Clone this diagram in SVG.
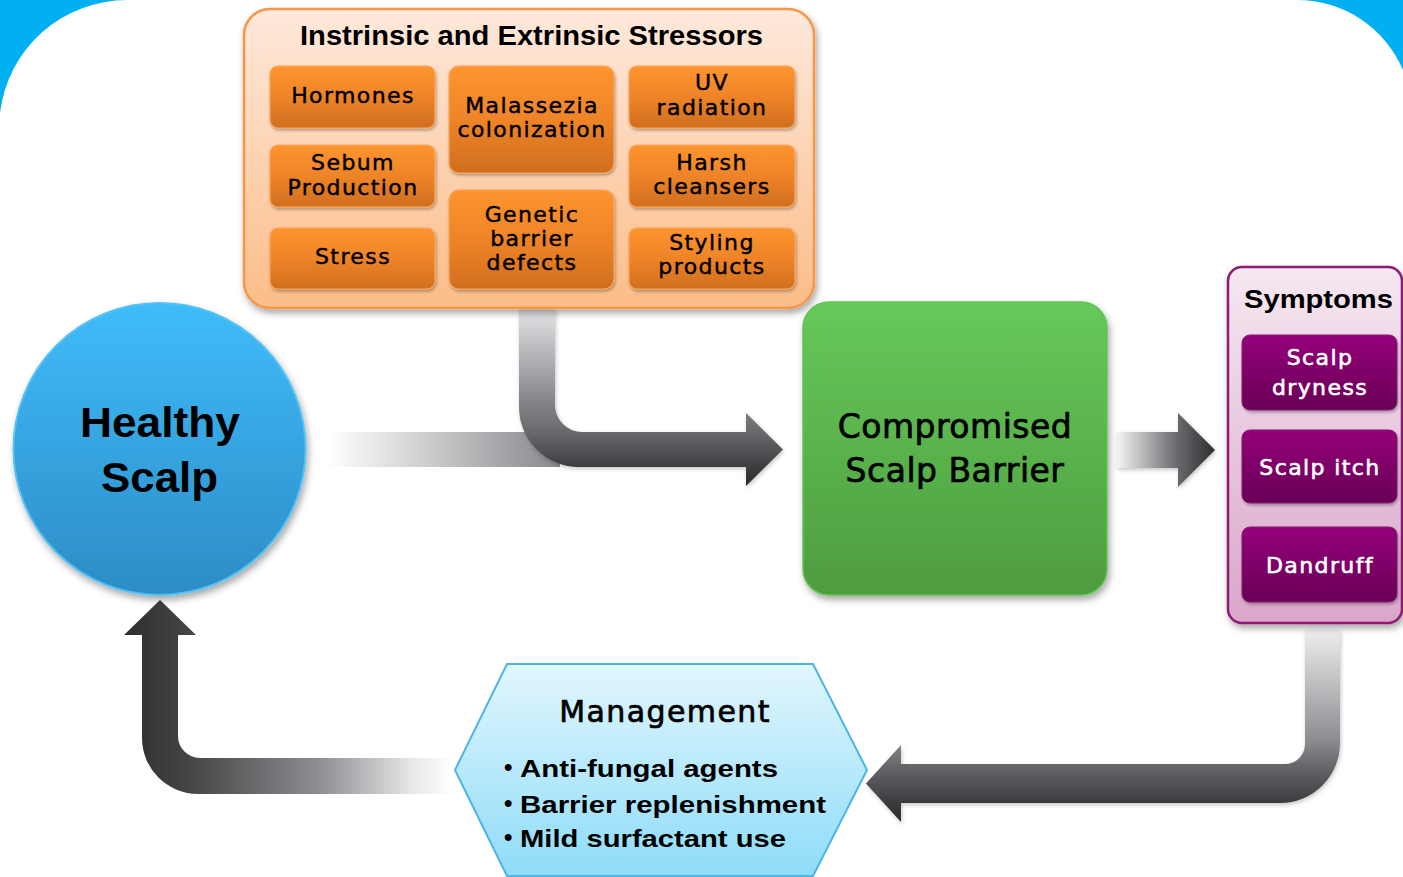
<svg xmlns="http://www.w3.org/2000/svg" width="1403" height="877" viewBox="0 0 1403 877">
  <defs>
    <style>
      .title { font-family: "Liberation Sans", Arial, sans-serif; font-weight: bold; fill: #000; }
      .cell { font-family: "DejaVu Sans", Verdana, sans-serif; font-size: 22px; letter-spacing: 1.4px; fill: #000; stroke: #000; stroke-width: 0.45; text-anchor: middle; }
      .sym { font-family: "DejaVu Sans", Verdana, sans-serif; font-size: 22px; letter-spacing: 1.4px; fill: #fff; stroke: #fff; stroke-width: 0.6; text-anchor: middle; }
      .big { font-family: "DejaVu Sans", Verdana, sans-serif; fill: #000; stroke: #000; stroke-width: 0.7; text-anchor: middle; }
      .bullet { font-family: "Liberation Sans", Arial, sans-serif; font-weight: bold; font-size: 24px; fill: #000; }
      .obox { fill: url(#gOrange); stroke: #f9a55c; stroke-width: 1.2; filter: url(#shSmall); }
      .pbox { fill: url(#gPurple); stroke: #8a1773; stroke-width: 1; filter: url(#shSmall); }
    </style>
    <linearGradient id="gPeach" x1="0" y1="0" x2="0" y2="1">
      <stop offset="0" stop-color="#fee9dc"/>
      <stop offset="1" stop-color="#fbbd88"/>
    </linearGradient>
    <linearGradient id="gOrange" x1="0" y1="0" x2="0" y2="1">
      <stop offset="0" stop-color="#fe952f"/>
      <stop offset="0.5" stop-color="#ee8428"/>
      <stop offset="1" stop-color="#d06e1e"/>
    </linearGradient>
    <linearGradient id="gBlue" x1="0" y1="0" x2="0" y2="1">
      <stop offset="0" stop-color="#3fbcfa"/>
      <stop offset="1" stop-color="#2d8cc6"/>
    </linearGradient>
    <linearGradient id="gGreen" x1="0" y1="0" x2="0" y2="1">
      <stop offset="0" stop-color="#66c95a"/>
      <stop offset="1" stop-color="#4e9c3f"/>
    </linearGradient>
    <linearGradient id="gPink" x1="0" y1="0" x2="0" y2="1">
      <stop offset="0" stop-color="#f5e8f1"/>
      <stop offset="1" stop-color="#daa6ca"/>
    </linearGradient>
    <linearGradient id="gPurple" x1="0" y1="0" x2="0" y2="1">
      <stop offset="0" stop-color="#940079"/>
      <stop offset="1" stop-color="#680056"/>
    </linearGradient>
    <linearGradient id="gCyan" x1="0" y1="0" x2="0" y2="1">
      <stop offset="0" stop-color="#e2f6fe"/>
      <stop offset="1" stop-color="#8edcf8"/>
    </linearGradient>

    <!-- connector shading -->
    <linearGradient id="gFadeRight" gradientUnits="userSpaceOnUse" x1="328" y1="0" x2="560" y2="0">
      <stop offset="0" stop-color="#ffffff"/>
      <stop offset="0.15" stop-color="#eeeef0"/>
      <stop offset="1" stop-color="#88888c"/>
    </linearGradient>
    <linearGradient id="gDown1" gradientUnits="userSpaceOnUse" x1="0" y1="308" x2="0" y2="486">
      <stop offset="0" stop-color="#e4e5e7"/>
      <stop offset="0.55" stop-color="#808185"/>
      <stop offset="0.70" stop-color="#68696c"/>
      <stop offset="0.89" stop-color="#3e3e41"/>
      <stop offset="1" stop-color="#2c2c2e"/>
    </linearGradient>
    <linearGradient id="gRight" gradientUnits="userSpaceOnUse" x1="1117" y1="0" x2="1215" y2="0">
      <stop offset="0" stop-color="#f4f4f5"/>
      <stop offset="0.6" stop-color="#6c6c70"/>
      <stop offset="1" stop-color="#2e2e30"/>
    </linearGradient>
    <linearGradient id="gDown2" gradientUnits="userSpaceOnUse" x1="0" y1="630" x2="0" y2="822">
      <stop offset="0" stop-color="#eeeef0"/>
      <stop offset="0.57" stop-color="#8c8d90"/>
      <stop offset="0.70" stop-color="#68696c"/>
      <stop offset="0.9" stop-color="#3b3b3e"/>
      <stop offset="1" stop-color="#2c2c2e"/>
    </linearGradient>
    <linearGradient id="gLeft" gradientUnits="userSpaceOnUse" x1="124" y1="0" x2="452" y2="0">
      <stop offset="0" stop-color="#2e2e30"/>
      <stop offset="0.2" stop-color="#454547"/>
      <stop offset="0.6" stop-color="#8f8f93"/>
      <stop offset="0.88" stop-color="#e8e8ea"/>
      <stop offset="1" stop-color="#ffffff"/>
    </linearGradient>

    <filter id="sh" x="-10%" y="-10%" width="125%" height="130%">
      <feDropShadow dx="2" dy="4" stdDeviation="3.5" flood-color="#000" flood-opacity="0.35"/>
    </filter>
    <filter id="shSmall" x="-10%" y="-10%" width="125%" height="135%">
      <feDropShadow dx="1" dy="2" stdDeviation="1.5" flood-color="#000" flood-opacity="0.3"/>
    </filter>
    <filter id="shArrow" x="-10%" y="-10%" width="125%" height="130%">
      <feDropShadow dx="1" dy="2" stdDeviation="2" flood-color="#000" flood-opacity="0.22"/>
    </filter>
  </defs>

  <!-- page background with blue rounded corners -->
  <rect x="0" y="0" width="1403" height="877" fill="#fff"/>
  <path d="M0,0 H127 A128,128 0 0 0 0,113 Z" fill="#00b0f0"/>
  <path d="M1297,0 A115,115 0 0 1 1403,70 V0 Z" fill="#00b0f0"/>

  <!-- connectors -->
  <g id="connectors">
    <rect x="328" y="432" width="232" height="35" fill="url(#gFadeRight)"/>
    <path d="M519,308 H555 V405 A27,27 0 0 0 582,432 H746 V413 L783,449.5 L746,486 V467 H579 A60,60 0 0 1 519,407 Z" fill="url(#gDown1)" filter="url(#shArrow)"/>
    <path d="M1117,432 H1178 V413 L1215,450 L1178,487 V468 H1117 Z" fill="url(#gRight)" filter="url(#shArrow)"/>
    <path d="M1305,630 H1340 V743 A60,60 0 0 1 1280,803 H901 V822 L866,783.5 L901,745 V764 H1285 A20,20 0 0 0 1305,744 Z" fill="url(#gDown2)" filter="url(#shArrow)"/>
    <path d="M452,758 H200 A22,22 0 0 1 178,736 V635 H196 L160,600 L124,635 H142 V738 A56,56 0 0 0 198,794 H452 Z" fill="url(#gLeft)"/>
  </g>

  <!-- stressors panel -->
  <g id="stressors">
    <rect x="244" y="9" width="570" height="299" rx="26" fill="url(#gPeach)" stroke="#f79646" stroke-width="2.5" filter="url(#sh)"/>
    <text class="title" x="300" y="45" font-size="28" textLength="463" lengthAdjust="spacingAndGlyphs">Instrinsic and Extrinsic Stressors</text>

    <g id="hormones">
      <rect class="obox" x="270" y="66" width="165" height="62" rx="8"/>
      <text class="cell" x="353" y="103">Hormones</text>
    </g>
    <g id="sebum">
      <rect class="obox" x="270" y="145" width="165" height="62" rx="8"/>
      <text class="cell" x="353" y="170">Sebum</text>
      <text class="cell" x="353" y="195">Production</text>
    </g>
    <g id="stress">
      <rect class="obox" x="270" y="228" width="165" height="61" rx="8"/>
      <text class="cell" x="353" y="264">Stress</text>
    </g>
    <g id="malassezia">
      <rect class="obox" x="449" y="66" width="165" height="107" rx="10"/>
      <text class="cell" x="532" y="113">Malassezia</text>
      <text class="cell" x="532" y="137">colonization</text>
    </g>
    <g id="genetic">
      <rect class="obox" x="449" y="190" width="165" height="99" rx="10"/>
      <text class="cell" x="532" y="222">Genetic</text>
      <text class="cell" x="532" y="246">barrier</text>
      <text class="cell" x="532" y="270">defects</text>
    </g>
    <g id="uv">
      <rect class="obox" x="629" y="66" width="166" height="62" rx="8"/>
      <text class="cell" x="712" y="90">UV</text>
      <text class="cell" x="712" y="115">radiation</text>
    </g>
    <g id="harsh">
      <rect class="obox" x="629" y="145" width="166" height="62" rx="8"/>
      <text class="cell" x="712" y="170">Harsh</text>
      <text class="cell" x="712" y="194">cleansers</text>
    </g>
    <g id="styling">
      <rect class="obox" x="629" y="228" width="166" height="61" rx="8"/>
      <text class="cell" x="712" y="250">Styling</text>
      <text class="cell" x="712" y="274">products</text>
    </g>
  </g>

  <!-- healthy scalp -->
  <g id="healthy-scalp">
    <circle cx="159.5" cy="449" r="146" fill="url(#gBlue)" stroke="#55c0f2" stroke-width="2" filter="url(#sh)"/>
    <text class="title" x="80" y="437" font-size="42" textLength="160" lengthAdjust="spacingAndGlyphs">Healthy</text>
    <text class="title" x="101" y="492" font-size="42" textLength="117" lengthAdjust="spacingAndGlyphs">Scalp</text>
  </g>

  <!-- compromised barrier -->
  <g id="compromised">
    <rect x="803" y="302" width="304" height="293" rx="26" fill="url(#gGreen)" stroke="#62c355" stroke-width="1.5" filter="url(#sh)"/>
    <text class="big" x="955" y="438" font-size="33" letter-spacing="0.5">Compromised</text>
    <text class="big" x="955" y="482" font-size="33" letter-spacing="0.5">Scalp Barrier</text>
  </g>

  <!-- symptoms -->
  <g id="symptoms">
    <rect x="1228" y="267" width="174" height="356" rx="14" fill="url(#gPink)" stroke="#8c1a73" stroke-width="2.5" filter="url(#sh)"/>
    <text class="title" x="1244" y="308" font-size="25" textLength="149" lengthAdjust="spacingAndGlyphs">Symptoms</text>
    <g id="dryness">
      <rect class="pbox" x="1242" y="335" width="155" height="75" rx="8"/>
      <text class="sym" x="1320" y="365">Scalp</text>
      <text class="sym" x="1320" y="395">dryness</text>
    </g>
    <g id="itch">
      <rect class="pbox" x="1242" y="430" width="155" height="73" rx="8"/>
      <text class="sym" x="1320" y="475">Scalp itch</text>
    </g>
    <g id="dandruff">
      <rect class="pbox" x="1242" y="527" width="155" height="75" rx="8"/>
      <text class="sym" x="1320" y="573">Dandruff</text>
    </g>
  </g>

  <!-- management -->
  <g id="management">
    <polygon points="507,664 813,664 867,770 813,876 507,876 455,770" fill="url(#gCyan)" stroke="#4db4e6" stroke-width="2"/>
    <text class="big" x="665" y="722" font-size="30" letter-spacing="1.4">Management</text>
    <text class="bullet" x="504" y="775" font-size="18">•</text>
    <text class="bullet" x="520" y="777" textLength="258" lengthAdjust="spacingAndGlyphs">Anti-fungal agents</text>
    <text class="bullet" x="504" y="811" font-size="18">•</text>
    <text class="bullet" x="520" y="813" textLength="306" lengthAdjust="spacingAndGlyphs">Barrier replenishment</text>
    <text class="bullet" x="504" y="845" font-size="18">•</text>
    <text class="bullet" x="520" y="847" textLength="266" lengthAdjust="spacingAndGlyphs">Mild surfactant use</text>
  </g>
</svg>
